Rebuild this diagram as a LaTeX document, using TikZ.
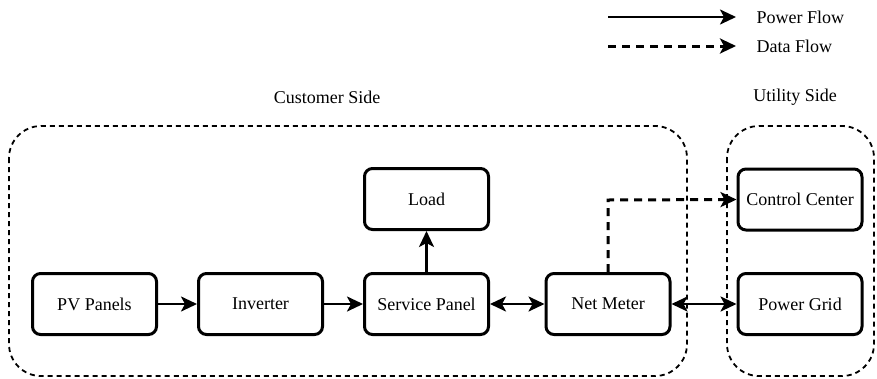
\documentclass[tikz,border=0pt]{standalone}
\usepackage{fontspec}
\setmainfont{Liberation Serif}
\usetikzlibrary{arrows.meta}
\begin{document}
\begin{tikzpicture}[x=1pt,y=-1pt,
  every node/.style={font=\fontsize{18}{22}\selectfont},
  box/.style={draw,line width=3pt,rounded corners=8pt,minimum width=124pt,minimum height=61pt,inner sep=0pt},
  grp/.style={draw,dash pattern=on 5pt off 4pt,line width=1.8pt,rounded corners=32pt},
  tip/.style={},
  pflow/.style={line width=2.6pt,-{Stealth[length=16pt,width=15pt,inset=4pt]}},
  pboth/.style={line width=2.6pt,{Stealth[length=16pt,width=15pt,inset=4pt]}-{Stealth[length=16pt,width=15pt,inset=4pt]}},
  dflow/.style={line width=3pt,dash pattern=on 8pt off 6pt,-{Stealth[length=16pt,width=15pt,inset=4pt]}}]
\useasboundingbox (0,0) rectangle (877,378);
% groups
\draw[grp] (9,126) rectangle (687,376);
\draw[grp] (727,126) rectangle (874,376);
\node (cs) at (327,97) {Customer Side};
\node (us) at (795,97) {Utility Side};
% nodes
\node[box] (pv) at (94.5,304) {PV Panels};
\node[box] (inv) at (260.5,304) {Inverter};
\node[box] (sp) at (426.5,304) {Service Panel};
\node[box] (load) at (426.5,199) {Load};
\node[box] (nm) at (608,304) {Net Meter};
\node[box] (pg) at (800,304) {Power Grid};
\node[box] (cc) at (800,199.5) {Control Center};
% connectors
\draw[pflow] (pv) -- (inv);
\draw[pflow] (inv) -- (sp);
\draw[pflow] (sp) -- (load);
\draw[pboth] (sp) -- (nm);
\draw[pboth] (nm) -- (pg);
\draw[dflow] (nm.north) -- (608,200) -- (cc.west);
% legend
\coordinate (l1a) at (608,17);
\coordinate (l1b) at (736,17);
\coordinate (l2a) at (608,46);
\coordinate (l2b) at (736,46);
\draw[pflow] (l1a) -- (l1b);
\draw[dflow] (l2a) -- (l2b);
\node[anchor=west] (lp) at (753,17) {Power Flow};
\node[anchor=west] (ld) at (753,46) {Data Flow};
\end{tikzpicture}
\end{document}
